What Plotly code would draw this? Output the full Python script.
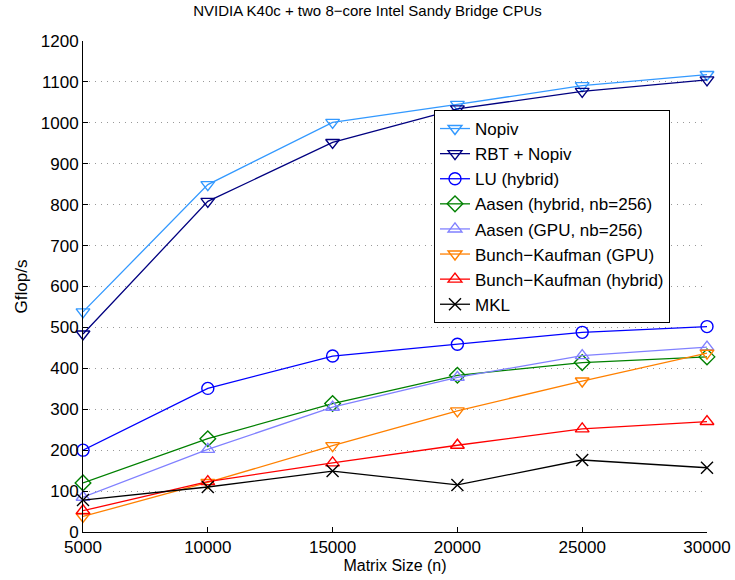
import plotly.graph_objects as go

sizes = [5000, 10000, 15000, 20000, 25000, 30000]
nopiv = [538, 849, 1001, 1045, 1091, 1118]
rbt_nopiv = [484, 808, 952, 1034, 1077, 1105]
lu_hybrid = [200, 351, 430, 459, 488, 502]
aasen_hybrid = [120, 228, 314, 383, 414, 428]
aasen_gpu = [85, 202, 305, 378, 431, 452]
bk_gpu = [38, 121, 211, 296, 369, 437]
bk_hybrid = [52, 123, 169, 212, 252, 270]
mkl = [78, 110, 149, 115, 176, 157]
y_ticks = list(range(0, 1201, 100))

series = [
    ("Nopiv", nopiv, "#3399ff", "triangle-down-open"),
    ("RBT + Nopiv", rbt_nopiv, "#000080", "triangle-down-open"),
    ("LU (hybrid)", lu_hybrid, "#0000ff", "circle-open"),
    ("Aasen (hybrid, nb=256)", aasen_hybrid, "#008000", "diamond-open"),
    ("Aasen (GPU, nb=256)", aasen_gpu, "#8080ff", "triangle-up-open"),
    ("Bunch\u2212Kaufman (GPU)", bk_gpu, "#ff8000", "triangle-down-open"),
    ("Bunch\u2212Kaufman (hybrid)", bk_hybrid, "#ff0000", "triangle-up-open"),
    ("MKL", mkl, "#000000", "x-thin-open"),
]

fig = go.Figure()
for name, vals, color, sym in series:
    fig.add_trace(go.Scatter(
        x=sizes, y=vals, name=name, mode="lines+markers",
        line=dict(color=color, width=1.3),
        marker=dict(symbol=sym, size=12, color=color,
                    line=dict(color=color, width=1.4)),
        cliponaxis=False,
    ))

font = "Liberation Sans, Arial, Helvetica, sans-serif"
fig.update_layout(
    width=735, height=580,
    margin=dict(l=83, r=28, t=41, b=48),
    plot_bgcolor="white", paper_bgcolor="white",
    font=dict(family=font, size=17, color="black"),
    title=dict(text="NVIDIA K40c + two 8\u2212core Intel Sandy Bridge CPUs",
               x=0.5, xanchor="center", y=0.981, yanchor="middle",
               font=dict(size=15)),
    legend=dict(x=0.5625, y=0.8595, xanchor="left", yanchor="top",
                bordercolor="black", borderwidth=1, bgcolor="white",
                font=dict(size=17), tracegroupgap=0,
                entrywidth=241, entrywidthmode="pixels"),
    showlegend=True,
)
fig.update_xaxes(
    range=[5000, 30000], tickvals=sizes, ticktext=[str(s) for s in sizes],
    ticks="inside", ticklen=5, tickcolor="black", showline=True,
    linecolor="black", linewidth=1, showgrid=False, zeroline=False,
    automargin=False,
    title=dict(text="Matrix Size (n)", standoff=3, font=dict(size=16)),
    tickfont=dict(size=17),
)
fig.update_yaxes(
    range=[0, 1200], tickvals=y_ticks, ticks="inside", ticklen=5,
    tickcolor="black", showline=True, linecolor="black", linewidth=1,
    showgrid=True, gridcolor="#999999", griddash="1px,5px", gridwidth=1,
    zeroline=False, automargin=False,
    title=dict(text="Gflop/s", standoff=8, font=dict(size=17)),
    tickfont=dict(size=17),
)

fig.write_html("out.html",
               config={"displayModeBar": False},
               post_script="document.body.style.margin='0';")
